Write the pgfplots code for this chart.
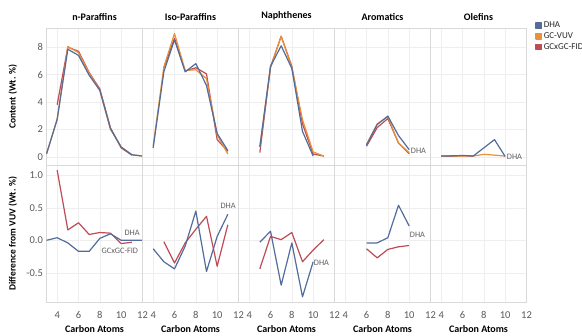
\documentclass[border=0pt]{standalone}
\usepackage{fontspec}
\setmainfont{Carlito}
\usepackage{pgfplots}
\pgfplotsset{compat=1.18}
\definecolor{dha}{RGB}{82,108,155}
\definecolor{vuv}{RGB}{232,145,55}
\definecolor{gcx}{RGB}{190,75,85}
\definecolor{lbl}{RGB}{95,95,95}
\tikzset{lab/.style={font=\fontsize{8.3}{9}\selectfont, text=lbl, inner sep=0pt, anchor=west}}
\pgfplotsset{
 panel/.style={scale only axis, width=96pt, height=137pt, xmin=3, xmax=12,
   xtick={4,6,8,10,12}, grid=major, major grid style={gray!13, line width=0.5pt},
   axis line style={gray!30, line width=0.6pt}, major tick length=0pt,
   clip mode=individual,
   tick label style={font=\fontsize{10.5}{11}\selectfont, text=gray!70!black},
   /pgf/number format/assume math mode=true,
   title style={font=\bfseries\fontsize{10}{11}\selectfont, yshift=-2pt},
   every axis plot/.append style={line width=1.2pt, line join=round}},
 toprow/.style={panel, ymin=-0.6, ymax=9.4, ytick={0,2,4,6,8}, xticklabels={}},
 botrow/.style={panel, ymin=-0.95, ymax=1.16, ytick={-0.5,0,0.5,1.0},
   yticklabel style={/pgf/number format/fixed, /pgf/number format/precision=1, /pgf/number format/fixed zerofill},
   xticklabel style={yshift=-6pt},
   xlabel={Carbon Atoms},
   xlabel style={font=\bfseries\fontsize{10}{11}\selectfont, at={(axis description cs:0.5,-0.2)}, anchor=center}},
 noy/.style={yticklabels={}},
 ylab/.style={ylabel style={font=\bfseries\fontsize{9.5}{11}\selectfont, at={(axis description cs:-0.35,0.5)}, anchor=center, rotate=0}}
}
\begin{document}
\begin{tikzpicture}
% ---------- top row ----------
\begin{axis}[toprow, ylab, at={(46.5pt,171pt)}, title={n-Paraffins}, ylabel={Content (Wt. \%)}]
\addplot[gcx] coordinates {(4,3.8)(5,8.0)(6,7.7)(7,6.15)(8,4.95)(9,2.1)(10,0.65)(11,0.12)};
\addplot[vuv] coordinates {(3,0.2)(4,2.7)(5,8.05)(6,7.6)(7,6.1)(8,4.85)(9,2.0)(10,0.72)(11,0.15)(12,0.05)};
\addplot[dha] coordinates {(3,0.2)(4,2.75)(5,7.85)(6,7.4)(7,5.95)(8,4.85)(9,2.05)(10,0.7)(11,0.15)(12,0.05)};
\end{axis}
\begin{axis}[toprow, noy, at={(142.5pt,171pt)}, title={Iso-Paraffins}]
\addplot[gcx] coordinates {(5,6.5)(6,8.65)(7,6.25)(8,6.5)(9,6.05)(10,1.25)(11,0.4)};
\addplot[vuv] coordinates {(4,0.78)(5,6.55)(6,9.0)(7,6.3)(8,6.35)(9,5.7)(10,1.6)(11,0.2)};
\addplot[dha] coordinates {(4,0.65)(5,6.2)(6,8.55)(7,6.2)(8,6.8)(9,5.2)(10,1.7)(11,0.45)};
\end{axis}
\begin{axis}[toprow, noy, at={(238.5pt,171pt)}, title={Naphthenes}]
\addplot[gcx] coordinates {(5,0.3)(6,6.55)(7,8.8)(8,6.6)(9,2.4)(10,0.2)(11,0.05)};
\addplot[vuv] coordinates {(5,0.75)(6,6.5)(7,8.8)(8,6.5)(9,2.7)(10,0.35)(11,0.05)};
\addplot[dha] coordinates {(5,0.72)(6,6.6)(7,8.1)(8,6.45)(9,1.85)(10,0.05)};
\end{axis}
\begin{axis}[toprow, noy, at={(334.5pt,171pt)}, title={Aromatics}]
\addplot[gcx] coordinates {(6,0.77)(7,2.13)(8,2.79)(9,1.0)(10,0.22)};
\addplot[vuv] coordinates {(6,0.9)(7,2.4)(8,2.93)(9,1.0)(10,0.3)};
\addplot[dha] coordinates {(6,0.86)(7,2.35)(8,2.97)(9,1.55)(10,0.52)};
\node[lab] at (axis cs:10.15,0.45) {DHA};
\end{axis}
\begin{axis}[toprow, noy, at={(430.5pt,171pt)}, title={Olefins},
  reverse legend,
  legend style={at={(1.09,1.06)}, anchor=north west, draw=none, fill=none,
    font=\fontsize{9}{9.5}\selectfont, row sep=-0.5pt, inner sep=0pt, text=gray!30!black},
  legend cell align=left,
  legend image code/.code={\fill[#1] (0pt,-2.6pt) rectangle (5.2pt,2.6pt);}]
\addplot[gcx] coordinates {(4,0.04)(5,0.07)(6,0.08)(7,0.05)};
\addplot[vuv] coordinates {(4,0.03)(5,0.04)(6,0.05)(7,0.05)(8,0.18)(9,0.12)(10,0.05)};
\addplot[dha] coordinates {(4,0.05)(5,0.06)(6,0.1)(7,0.05)(8,0.65)(9,1.25)(10,0.02)};
\legend{GCxGC-FID,GC-VUV,DHA}
\node[lab] at (axis cs:10.15,0.0) {DHA};
\end{axis}
% ---------- bottom row ----------
\begin{axis}[botrow, ylab, at={(46.5pt,34pt)}, ylabel={Difference from VUV (Wt. \%)}]
\addplot[gcx] coordinates {(4,1.08)(5,0.16)(6,0.27)(7,0.09)(8,0.12)(9,0.11)(10,-0.05)(11,-0.03)};
\addplot[dha] coordinates {(3,0.0)(4,0.04)(5,-0.04)(6,-0.17)(7,-0.17)(8,0.03)(9,0.10)(10,0.0)(11,0.0)(12,0.0)};
\node[lab] at (axis cs:10.3,0.12) {DHA};
\node[lab] at (axis cs:8.15,-0.155) {GCxGC-FID};
\end{axis}
\begin{axis}[botrow, noy, at={(142.5pt,34pt)}]
\addplot[gcx] coordinates {(5,-0.02)(6,-0.35)(7,-0.04)(8,0.17)(9,0.37)(10,-0.40)(11,0.24)};
\addplot[dha] coordinates {(4,-0.13)(5,-0.33)(6,-0.44)(7,-0.09)(8,0.45)(9,-0.48)(10,0.06)(11,0.40)};
\node[lab] at (axis cs:10.3,0.53) {DHA};
\end{axis}
\begin{axis}[botrow, noy, at={(238.5pt,34pt)}]
\addplot[gcx] coordinates {(5,-0.44)(6,0.06)(7,0.01)(8,0.12)(9,-0.33)(10,-0.15)(11,0.01)};
\addplot[dha] coordinates {(5,-0.03)(6,0.14)(7,-0.69)(8,-0.04)(9,-0.87)(10,-0.33)};
\node[lab] at (axis cs:10.05,-0.34) {DHA};
\end{axis}
\begin{axis}[botrow, noy, at={(334.5pt,34pt)}]
\addplot[gcx] coordinates {(6,-0.13)(7,-0.27)(8,-0.14)(9,-0.1)(10,-0.08)};
\addplot[dha] coordinates {(6,-0.04)(7,-0.04)(8,0.04)(9,0.54)(10,0.22)};
\node[lab] at (axis cs:10.05,0.09) {DHA};
\end{axis}
\begin{axis}[botrow, noy, at={(430.5pt,34pt)}]
\end{axis}
\pgfresetboundingbox
\useasboundingbox (0,0) rectangle (582pt,336pt);
\end{tikzpicture}
\end{document}
